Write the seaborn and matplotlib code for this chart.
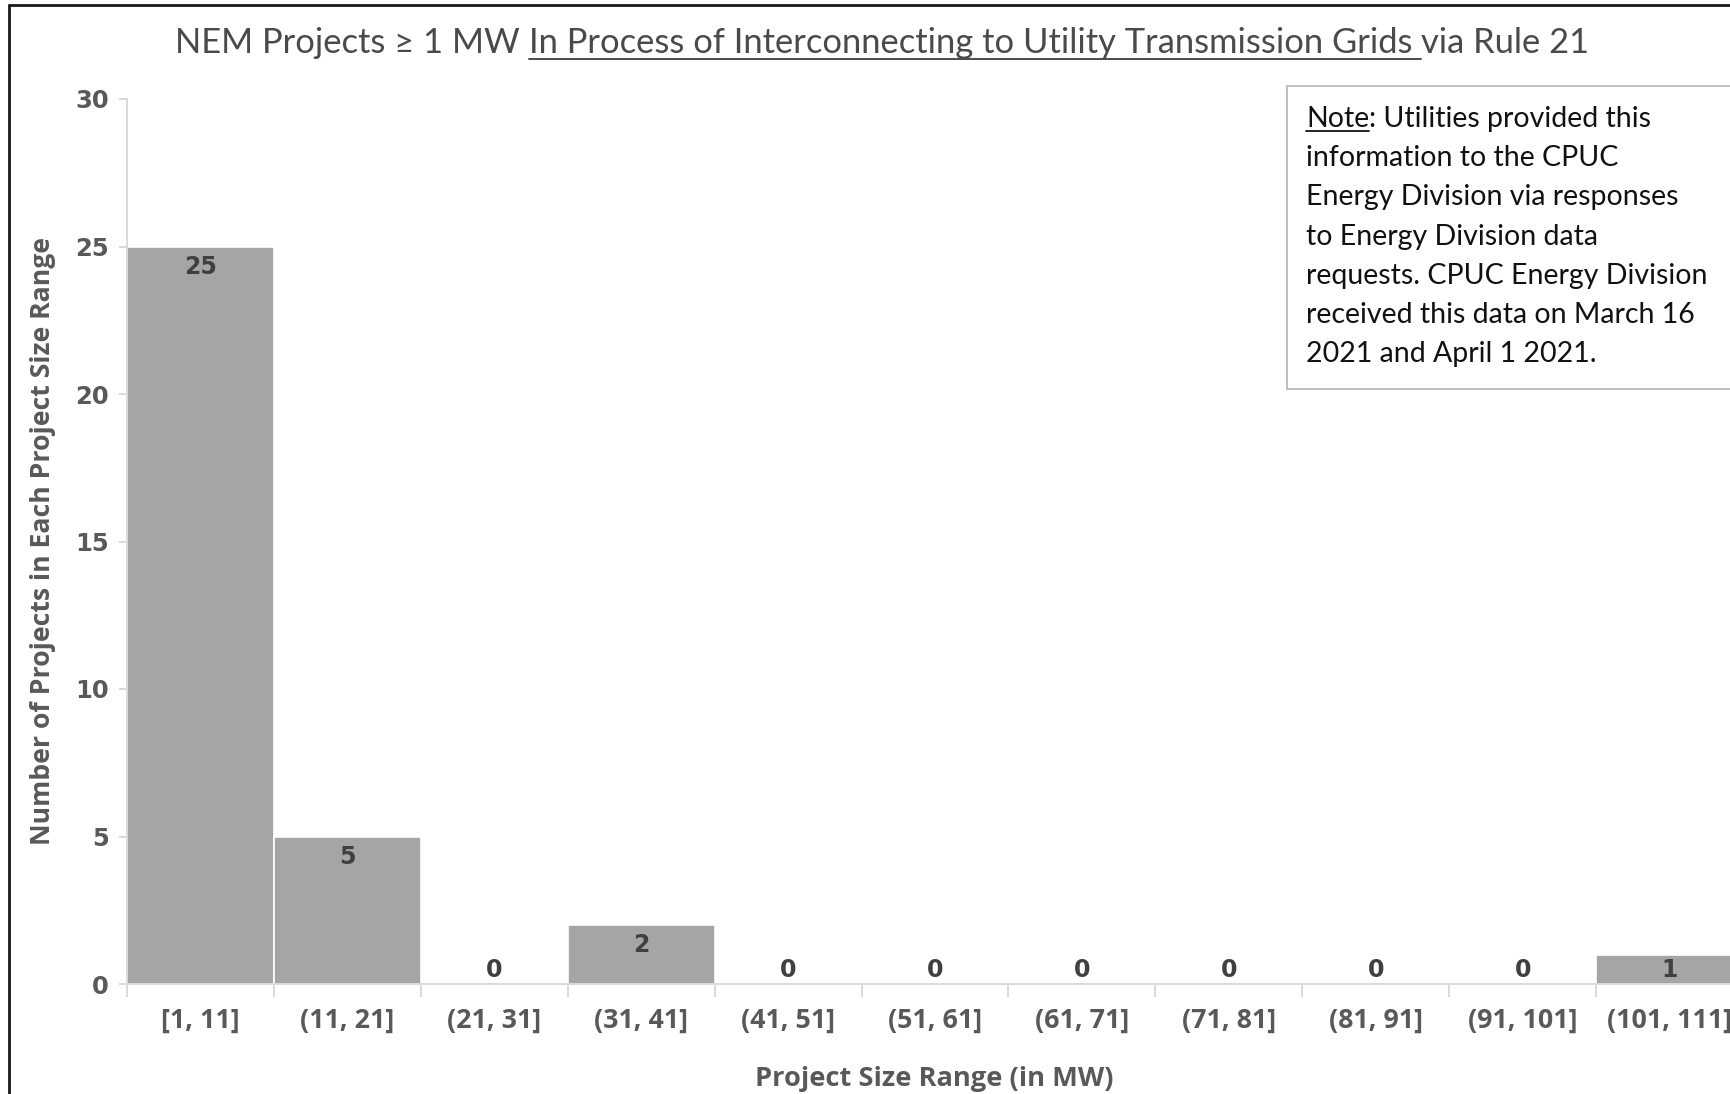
import matplotlib
matplotlib.use("Agg")
import pandas as pd
import matplotlib.pyplot as plt
from matplotlib.lines import Line2D
from matplotlib.patches import Rectangle
import seaborn as sns

size_ranges = [
    "[1, 11]", "(11, 21]", "(21, 31]", "(31, 41]", "(41, 51]", "(51, 61]",
    "(61, 71]", "(71, 81]", "(81, 91]", "(91, 101]", "(101, 111]",
]
project_counts = [25, 5, 0, 2, 0, 0, 0, 0, 0, 0, 1]
y_ticks = [0, 5, 10, 15, 20, 25, 30]

title_parts = [
    "NEM Projects \u2265 1 MW",
    "In Process of Interconnecting to Utility Transmission Grids",
    "via Rule 21",
]
note_lines = [
    ": Utilities provided this",
    "information to the CPUC",
    "Energy Division via responses",
    "to Energy Division data",
    "requests. CPUC Energy Division",
    "received this data on March 16",
    "2021 and April 1 2021.",
]

W, H = 1731, 1094
GREY = "#595959"
BAR = "#A5A5A5"
AXIS_LINE = "#D9D9D9"
BOLD_FONT = ["Open Sans", "DejaVu Sans"]

sns.set_theme(style="white")
plt.rcParams["font.family"] = ["Lato", "DejaVu Sans"]


def px(x, y):
    """pixel position measured from top-left -> figure fraction"""
    return x / W, 1 - y / H


fig = plt.figure(figsize=(W / 100, H / 100), dpi=100)
fig.patch.set_facecolor("white")
ax = fig.add_axes([127 / W, 110 / H, (1743 - 127) / W, (995 - 110) / H])

df = pd.DataFrame({"Range": size_ranges, "Count": project_counts})
sns.barplot(
    data=df, x="Range", y="Count", color=BAR, saturation=1, width=1.0,
    edgecolor="white", linewidth=1.2, ax=ax,
)

ax.set_xlim(-0.5, len(size_ranges) - 0.5)
ax.set_ylim(0, 30)
ax.set_xlabel("")
ax.set_ylabel("")
sns.despine(ax=ax, top=True, right=True)
for side in ("left", "bottom"):
    ax.spines[side].set_color(AXIS_LINE)
    ax.spines[side].set_linewidth(1.4)

ax.set_yticks(y_ticks, labels=[str(t) for t in y_ticks],
              fontfamily="DejaVu Sans", fontweight="bold", fontsize=17.5, color=GREY)
ax.tick_params(axis="y", length=6, width=1.4, color=AXIS_LINE, pad=7, left=True)

ax.set_xticks(range(len(size_ranges)), labels=size_ranges,
              fontfamily=BOLD_FONT, fontweight="bold", fontsize=19.3, color=GREY)
ax.set_xticks([i - 0.5 for i in range(len(size_ranges) + 1)], minor=True)
ax.tick_params(axis="x", which="major", length=0, pad=17)
ax.tick_params(axis="x", which="minor", length=9, width=1.4, color=AXIS_LINE, bottom=True)

for i, v in enumerate(project_counts):
    ax.text(i, max(v - 0.68, 0.47), str(v), ha="center", va="center",
            fontfamily="DejaVu Sans", fontweight="bold", fontsize=17, color="#404040")

fig.text(*px(43, 541), "Number of Projects in Each Project Size Range",
         rotation=90, ha="center", va="center", fontfamily=BOLD_FONT,
         fontweight="bold", fontsize=19.2, color=GREY)
fig.text(*px(934, 1079), "Project Size Range (in MW)",
         ha="center", va="center", fontfamily=BOLD_FONT, fontweight="bold",
         fontsize=19.6, color=GREY)

# outer frame (left and top edges visible, rest cropped)
fig.add_artist(Line2D([9 / W, 9 / W], [-0.01, 1 - 5 / H], transform=fig.transFigure,
                      color="#1a1a1a", lw=2.0))
fig.add_artist(Line2D([9 / W, 1.01], [1 - 5 / H, 1 - 5 / H], transform=fig.transFigure,
                      color="#1a1a1a", lw=2.0))

# note box
fig.add_artist(Rectangle(px(1287, 389), (1760 - 1287) / W, (389 - 86) / H,
                         transform=fig.transFigure, facecolor="white",
                         edgecolor="#BFBFBF", lw=1.4))

fig.canvas.draw()
renderer = fig.canvas.get_renderer()


def text_width(s, **kw):
    t = fig.text(0, 0, s, **kw)
    w = t.get_window_extent(renderer).width
    t.remove()
    return w


# title with underlined middle part
title_kw = dict(fontsize=24.8, color="#4a4a4a", va="baseline", ha="left")
space = text_width("N N", **title_kw) - text_width("NN", **title_kw)
widths = [text_width(s, **title_kw) for s in title_parts]
total = sum(widths) + 2 * space
x = 882 - total / 2
title_base = 53
starts = []
for s, w in zip(title_parts, widths):
    fig.text(*px(x, title_base), s, **title_kw)
    starts.append(x)
    x += w + space
u0, u1 = starts[1], starts[1] + widths[1] + space
fig.add_artist(Line2D([u0 / W, u1 / W], [1 - 58.5 / H] * 2, transform=fig.transFigure,
                      color="#4a4a4a", lw=1.4))

# note text
note_kw = dict(fontsize=20.5, color="#111111", va="baseline", ha="left")
note_x = 1306
note_w = text_width("Note", **note_kw)
fig.text(*px(note_x, 127), "Note", **note_kw)
fig.text(*px(note_x + note_w, 127), note_lines[0], **note_kw)
for i, line in enumerate(note_lines[1:], start=1):
    fig.text(*px(note_x, 127 + i * 39.2), line, **note_kw)
fig.add_artist(Line2D([note_x / W, (note_x + note_w) / W], [1 - 131 / H] * 2,
                      transform=fig.transFigure, color="#111111", lw=1.3))

fig.savefig("out.png", dpi=100)
